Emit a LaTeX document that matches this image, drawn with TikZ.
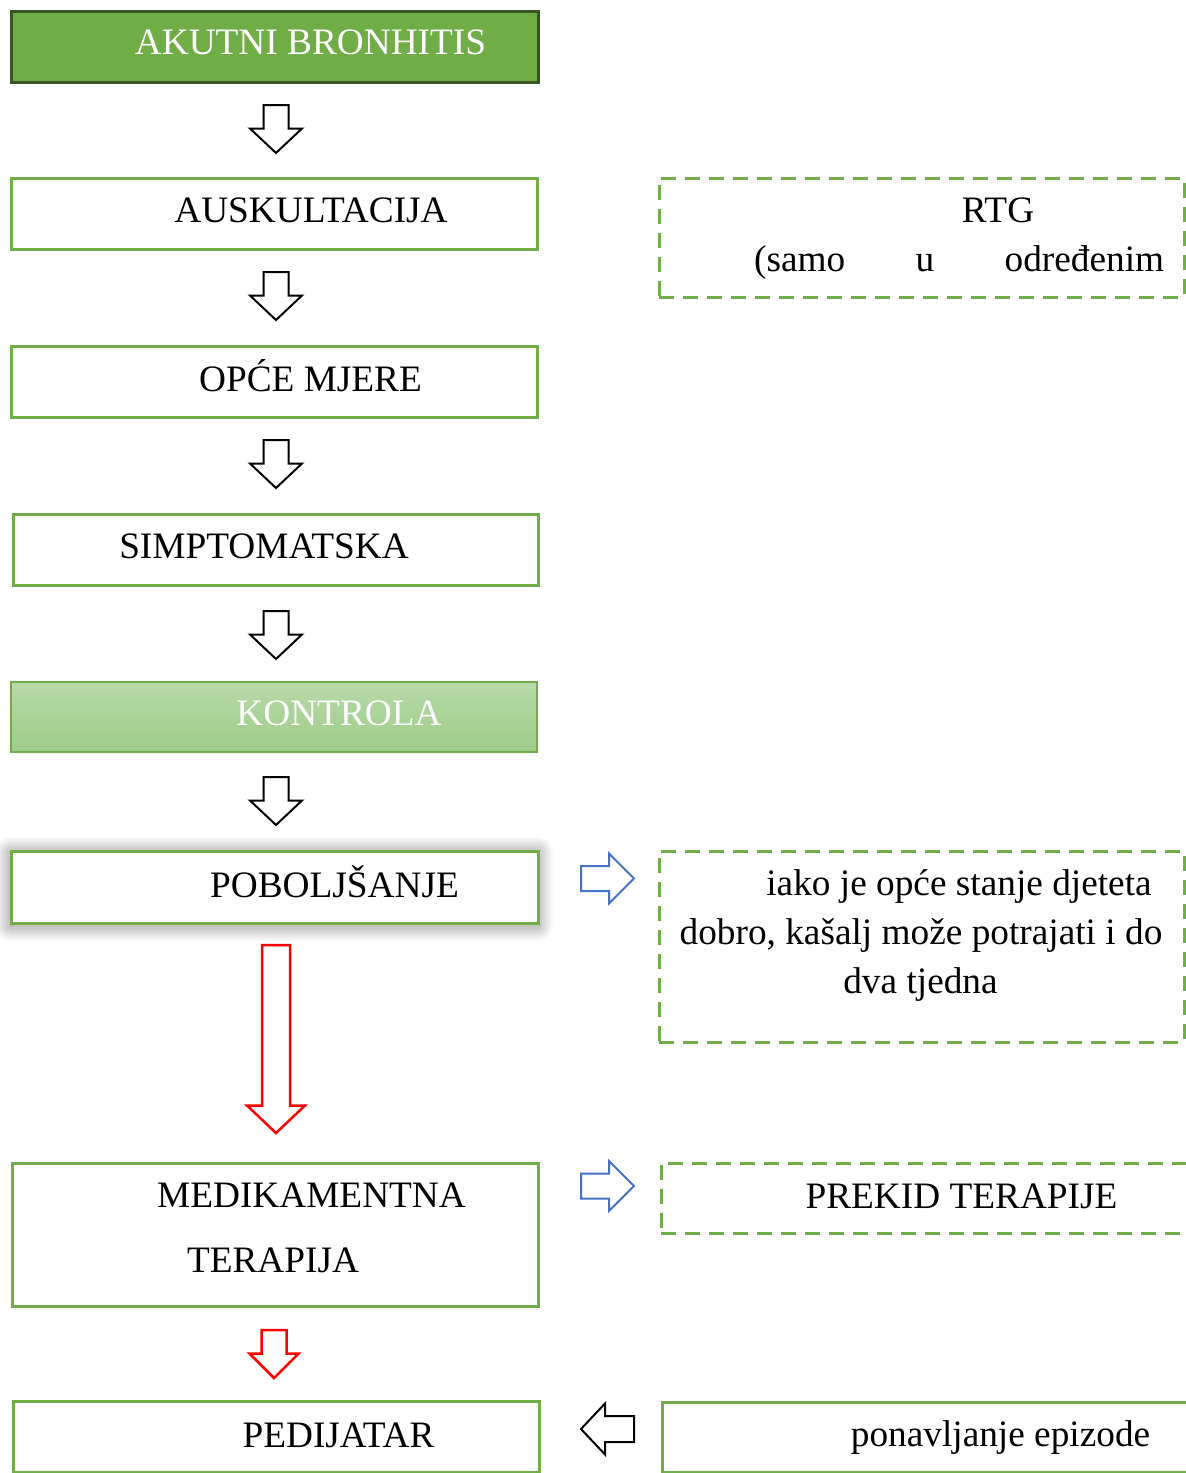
\documentclass[tikz,border=0pt]{standalone}
\usepackage{fontspec}
\setmainfont{Liberation Serif}
\definecolor{grn}{HTML}{70AD47}
\definecolor{dgrn}{HTML}{385723}
\definecolor{blu}{HTML}{4472C4}
\definecolor{ktop}{HTML}{B7DAA9}
\definecolor{kbot}{HTML}{9ECA88}
\tikzset{
  box/.style={draw=grn, line width=3pt, fill=white, anchor=north west, inner sep=0pt, outer sep=0pt},
  dbox/.style={draw=grn, line width=3pt, dash pattern=on 15pt off 9pt, anchor=north west, inner sep=0pt, outer sep=0pt},
  txt/.style={anchor=base, inner sep=0pt, font=\fontsize{37.3}{44}\selectfont},
  blk/.style={draw=black, line width=2pt, fill=white, line join=miter},
  redarr/.style={draw=red, line width=2.5pt, fill=white, line join=miter},
  bluarr/.style={draw=blu, line width=2pt, fill=white, line join=miter},
}
% vertical block arrow: style, xc, shaft half, head half, ytop, ybase, ytip
\newcommand{\vblockarrow}[7]{%
  \draw[#1] ({#2-#3},#5) -- ({#2+#3},#5) -- ({#2+#3},#6) -- ({#2+#4},#6) -- (#2,#7)
    -- ({#2-#4},#6) -- ({#2-#3},#6) -- cycle;}
% horizontal block arrow: style, yc, shaft half, head half, xtail, xbase, xtip
\newcommand{\hblockarrow}[7]{%
  \draw[#1] (#5,{#2-#3}) -- (#5,{#2+#3}) -- (#6,{#2+#3}) -- (#6,{#2+#4}) -- (#7,#2)
    -- (#6,{#2-#4}) -- (#6,{#2-#3}) -- cycle;}
\begin{document}
\begin{tikzpicture}[x=1pt,y=-1pt]
\useasboundingbox (0,0) rectangle (1186,1473);
\fill[white] (0,0) rectangle (1186,1473);

% soft shadow behind POBOLJSANJE
\foreach \k in {1,...,16}{
  \fill[black, opacity=0.017, rounded corners=\k pt] ({11-\k},{853-\k}) rectangle ({537+\k},{925+\k});
}

% left column boxes
\node[box, draw=dgrn, fill=grn, line width=3pt, minimum width=527pt, minimum height=71pt] (akutni) at (11,11) {};
\node[txt, white] (takutni) at (310.5,54.5) {AKUTNI BRONHITIS};

\node[box, minimum width=526pt, minimum height=71pt] (ausk) at (11,178) {};
\node[txt] (tausk) at (311,222) {AUSKULTACIJA};

\node[box, minimum width=526pt, minimum height=71pt] (opce) at (11,346) {};
\node[txt] (topce) at (310.5,391) {OPĆE MJERE};

\node[box, minimum width=525pt, minimum height=71pt] (simp) at (13,514) {};
\node[txt] (tsimp) at (264,558) {SIMPTOMATSKA};

\node[box, line width=1.5pt, top color=ktop, bottom color=kbot, minimum width=526pt, minimum height=70pt] (kontrola) at (11,682) {};
\node[txt, white] (tkontrola) at (339,725) {KONTROLA};

\node[box, minimum width=527pt, minimum height=72pt] (pob) at (11,851) {};
\node[txt] (tpob) at (334.5,897) {POBOLJŠANJE};

\node[box, minimum width=526pt, minimum height=143pt] (medik) at (12,1163) {};
\node[txt] (tmedik1) at (311.5,1207) {MEDIKAMENTNA};
\node[txt] (tmedik2) at (273,1272) {TERAPIJA};

\node[box, minimum width=526pt, minimum height=71pt] (ped) at (13,1401) {};
\node[txt] (tped) at (338.5,1447) {PEDIJATAR};

% right column boxes
\node[dbox, minimum width=525pt, minimum height=119pt] (rtg) at (659,178) {};
\node[txt] (trtg1) at (998,222) {RTG};
\node[txt, anchor=base west] (trtg2) at (754,271) {\hbox to 410pt{(samo\hfill u\hfill određenim}};

\node[dbox, minimum width=525pt, minimum height=191pt] (iako) at (659,851) {};
\node[txt] (tiako1) at (959,895) {iako je opće stanje djeteta};
\node[txt] (tiako2) at (921,944) {dobro, kašalj može potrajati i do};
\node[txt] (tiako3) at (920.5,993) {dva tjedna};

\node[dbox, minimum width=540pt, minimum height=70pt] (prekid) at (661,1163) {};
\node[txt] (tprekid) at (961.5,1208) {PREKID TERAPIJE};

\node[box, minimum width=540pt, minimum height=70pt] (ponav) at (662,1402) {};
\node[txt] (tponav) at (1000.5,1446) {ponavljanje epizode};

% block arrows
\vblockarrow{blk}{276}{12.5}{26}{105}{128.5}{153}
\vblockarrow{blk}{276}{12.5}{26}{272}{295.5}{320}
\vblockarrow{blk}{276}{12.5}{26}{440}{463.5}{488}
\vblockarrow{blk}{276}{12.5}{26}{611}{634.5}{659}
\vblockarrow{blk}{276}{12.5}{26}{777}{800.5}{825}
\vblockarrow{redarr}{276}{14}{29}{945}{1105.5}{1133}
\vblockarrow{redarr}{274}{12.5}{24.5}{1330}{1353.5}{1378}

\hblockarrow{bluarr}{878.5}{12.5}{25}{581}{609}{634}
\hblockarrow{bluarr}{1186}{12.5}{25}{581}{609}{634}
\hblockarrow{blk}{1429}{13}{25.5}{634}{605}{581}
\end{tikzpicture}
\end{document}
